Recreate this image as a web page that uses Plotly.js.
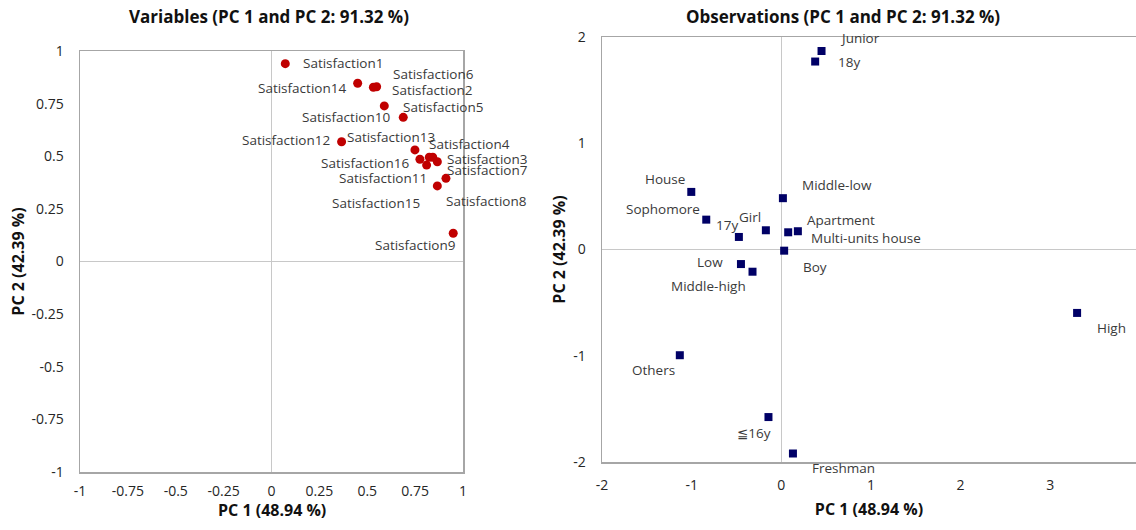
<!DOCTYPE html>
<html>
<head>
<meta charset="utf-8">
<script src="https://cdn.plot.ly/plotly-3.0.1.min.js"></script>
<style>html,body{margin:0;padding:0;background:#fff;}#chart{width:1136px;height:530px;}</style>
</head>
<body>
<div id="chart"></div>
<script>
// ---- Data: variables (loadings) ----
const varNames = ['Satisfaction1','Satisfaction2','Satisfaction3','Satisfaction4','Satisfaction5','Satisfaction6','Satisfaction7','Satisfaction8','Satisfaction9','Satisfaction10','Satisfaction11','Satisfaction12','Satisfaction13','Satisfaction14','Satisfaction15','Satisfaction16'];
const varPC1 = [0.072, 0.532, 0.866, 0.824, 0.589, 0.549, 0.842, 0.911, 0.949, 0.688, 0.810, 0.366, 0.749, 0.450, 0.866, 0.775];
const varPC2 = [0.940, 0.828, 0.474, 0.495, 0.739, 0.830, 0.495, 0.395, 0.134, 0.685, 0.458, 0.569, 0.530, 0.847, 0.359, 0.486];

// ---- Data: observations (scores) ----
const obsNames = ['Junior','18y','House','Sophomore','17y','Girl','Middle-low','Apartment','Multi-units house','Boy','Low','Middle-high','High','Others','≦16y','Freshman'];
const obsPC1 = [0.449, 0.378, -1.004, -0.837, -0.473, -0.172, 0.018, 0.185, 0.077, 0.032, -0.450, -0.321, 3.300, -1.132, -0.143, 0.130];
const obsPC2 = [1.868, 1.769, 0.542, 0.281, 0.118, 0.181, 0.483, 0.172, 0.162, -0.011, -0.137, -0.209, -0.597, -0.995, -1.577, -1.920];

// ---- Tick labels ----
const varTicks = [-1, -0.75, -0.5, -0.25, 0, 0.25, 0.5, 0.75, 1];
const varTickText = ['-1', '-0.75', '-0.5', '-0.25', '0', '0.25', '0.5', '0.75', '1'];
const obsXTicks = [-2, -1, 0, 1, 2, 3];
const obsXTickText = ['-2', '-1', '0', '1', '2', '3'];
const obsYTicks = [-2, -1, 0, 1, 2];
const obsYTickText = ['-2', '-1', '0', '1', '2'];

// ---- Label placement (pixel shifts, layout only) ----
const varLabelShift = [[58,1],[59,-3],[50,3],[40,13],[59,-1],[57,13],[55,-13],[41,-23],[-38,-12],[-57,0],[-44,-13],[-56,2],[-24,13],[-56,-5],[-61,-17],[-55,-4]];
const obsLabelShift = [[38,13],[34,0],[-26,13],[-43,11],[-12,12],[-16,13],[54,13],[43,11],[78,-6],[31,-16],[-31,2],[-44,-14],[34,-15],[-26,-15],[-14,-16],[51,-14]];

const FONT = 'Open Sans, Noto Sans, DejaVu Sans, sans-serif';
const labelFont = {family: FONT, size: 13.5, color: '#3a3a3a'};
const tickFont = {family: FONT, size: 14, color: '#262626'};
const titleFont = {family: FONT, size: 17, color: '#111111', weight: 'bold'};
const axTitleFont = {family: FONT, size: 16, color: '#111111', weight: 'bold'};

const annotations = [];
varNames.forEach((n, i) => annotations.push({xref:'x', yref:'y', x: varPC1[i], y: varPC2[i], text: n, showarrow:false, xshift: varLabelShift[i][0], yshift: varLabelShift[i][1], font: labelFont, xanchor:'center', yanchor:'middle'}));
obsNames.forEach((n, i) => annotations.push({xref:'x2', yref:'y2', x: obsPC1[i], y: obsPC2[i], text: n, showarrow:false, xshift: obsLabelShift[i][0], yshift: obsLabelShift[i][1], font: labelFont, xanchor:'center', yanchor:'middle'}));
annotations.push({xref:'paper', yref:'paper', x: 269/1136, y: 1 - 17/530, text: '<b>Variables (PC 1 and PC 2: 91.32 %)</b>', showarrow:false, font: titleFont, xanchor:'center', yanchor:'middle'});
annotations.push({xref:'paper', yref:'paper', x: 843/1136, y: 1 - 17/530, text: '<b>Observations (PC 1 and PC 2: 91.32 %)</b>', showarrow:false, font: titleFont, xanchor:'center', yanchor:'middle'});
// left x-axis title placed precisely under its axis
annotations.push({xref:'x domain', yref:'paper', x: 0.5, y: 1 - 510/530, text: '<b>PC 1 (48.94 %)</b>', showarrow:false, font: axTitleFont, xanchor:'center', yanchor:'middle'});

const traces = [
  {type:'scatter', mode:'markers', x: varPC1, y: varPC2, xaxis:'x', yaxis:'y', marker:{color:'#c00000', size:9, symbol:'circle'}, hoverinfo:'text', text: varNames, cliponaxis:false},
  {type:'scatter', mode:'markers', x: obsPC1, y: obsPC2, xaxis:'x2', yaxis:'y2', marker:{color:'#000066', size:8, symbol:'square'}, hoverinfo:'text', text: obsNames, cliponaxis:false}
];

const axisCommon = {showgrid:false, zeroline:true, zerolinecolor:'#c8c8c8', zerolinewidth:1, showline:true, linecolor:'#a6a6a6', linewidth:1.5, ticks:'', tickfont: tickFont, automargin:false, fixedrange:true};

const layout = {
  width: 1136, height: 530,
  margin: {l:0, r:0, t:0, b:0},
  paper_bgcolor:'#ffffff', plot_bgcolor:'#ffffff',
  showlegend:false,
  xaxis: Object.assign({}, axisCommon, {domain:[80/1136, 463/1136], range:[-1,1], anchor:'y', mirror:true, tickmode:'array', tickvals: varTicks, ticktext: varTickText, ticklabelstandoff: 6}),
  yaxis: Object.assign({}, axisCommon, {domain:[(530-472)/530, (530-51)/530], range:[-1,1], anchor:'x', mirror:true, tickmode:'array', tickvals: varTicks, ticktext: varTickText, ticklabelstandoff: 12, title:{text:'<b>PC 2 (42.39 %)</b>', font: axTitleFont, standoff: 3}}),
  xaxis2: Object.assign({}, axisCommon, {domain:[602/1136, 1], range:[-2, 3.957], anchor:'y2', mirror:true, tickmode:'array', tickvals: obsXTicks, ticktext: obsXTickText, ticklabelstandoff: 10, title:{text:'<b>PC 1 (48.94 %)</b>', font: axTitleFont, standoff: 10}}),
  yaxis2: Object.assign({}, axisCommon, {domain:[(530-462)/530, (530-37)/530], range:[-2,2], anchor:'x2', mirror:false, tickmode:'array', tickvals: obsYTicks, ticktext: obsYTickText, ticklabelstandoff: 12, title:{text:'<b>PC 2 (42.39 %)</b>', font: axTitleFont, standoff: 3}}),
  annotations: annotations
};

Plotly.newPlot('chart', traces, layout, {displayModeBar:false, staticPlot:true});
</script>
</body>
</html>
